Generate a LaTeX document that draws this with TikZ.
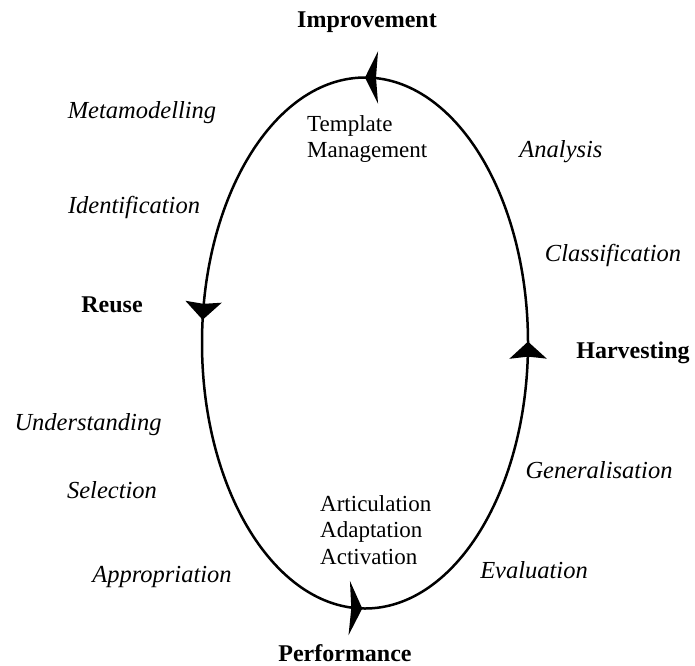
\documentclass[tikz,border=0pt]{standalone}
\usepackage{fontspec}
\setmainfont{Liberation Serif}
\usetikzlibrary{arrows.meta,decorations.markings}
\begin{document}
\begin{tikzpicture}[x=1pt,y=1pt,
	    phase/.style={font=\fontsize{24}{28}\selectfont\bfseries,inner sep=0pt},
	    activity/.style={font=\fontsize{24.5}{28}\selectfont\itshape,inner sep=0pt},
	    practice/.style={font=\fontsize{23}{26.5}\selectfont,align=left,anchor=west,inner sep=0pt}]
	    \useasboundingbox (0,0) rectangle (695,-665);
	    % the cycle
	    \draw[line width=2.5pt,postaction={decorate},decoration={markings,
	        mark=at position 0.001 with {\arrow{Stealth[length=17pt,width=37pt,inset=2pt]}},
	        mark=at position 0.25 with {\arrow{Stealth[length=13pt,width=52pt,inset=2pt]}},
	        mark=at position 0.483 with {\arrow{Stealth[length=18pt,width=36pt,inset=2pt]}},
	        mark=at position 0.748 with {\arrow{Stealth[length=13pt,width=54pt,inset=2pt]}}}]
	        (365,-343) ellipse [x radius=163, y radius=265.5];
	    % phases
	    \node[phase] (improve) at (367,-22) {Improvement};
	    \node[phase] (harvest) at (633,-353) {Harvesting};
	    \node[phase] (perform) at (345,-653) {Performance};
	    \node[phase] (reuse) at (112,-305) {Reuse};
	    % activities
	    \node[activity] (meta) at (142,-113) {Metamodelling};
	    \node[activity] (ident) at (134,-207) {Identification};
	    \node[activity] (analysis) at (561,-152) {Analysis};
	    \node[activity] (classif) at (613,-255) {Classification};
	    \node[activity] (underst) at (88,-425) {Understanding};
	    \node[activity] (select) at (112,-490) {Selection};
	    \node[activity] (approp) at (162,-577) {Appropriation};
	    \node[activity] (general) at (599,-470) {Generalisation};
	    \node[activity] (eval) at (534,-570) {Evaluation};
	    % inside
	    \node[practice] (templ) at (307,-139) {Template\\Management};
	    \node[practice] (artic) at (320,-530) {Articulation\\Adaptation\\Activation};
\end{tikzpicture}
\end{document}
